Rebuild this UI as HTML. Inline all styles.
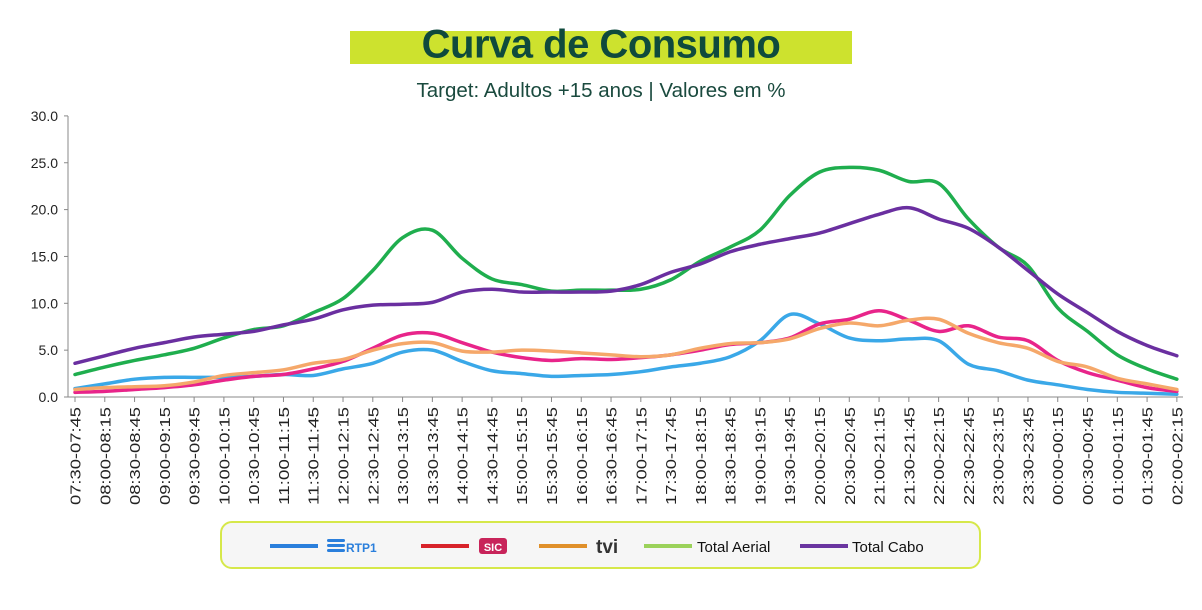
<!DOCTYPE html>
<html><head><meta charset="utf-8"><style>
body{margin:0;width:1202px;height:605px;background:#fff;overflow:hidden;font-family:"Liberation Sans",sans-serif}
</style></head><body>
<svg width="1202" height="605" xmlns="http://www.w3.org/2000/svg" id="s">
<rect x="350" y="31" width="502" height="33" fill="#cde22e"/>
<text x="601" y="47" text-anchor="middle" font-size="40" font-weight="bold" fill="#0f4a3c" font-family="Liberation Sans" style="letter-spacing:-0.5px" dominant-baseline="middle">Curva de Consumo</text>
<text x="601" y="97" text-anchor="middle" font-size="20.5" fill="#1a4a3e">Target: Adultos +15 anos | Valores em %</text>
<g id="ax" fill="#222"></g>
<g id="ln" fill="none" stroke-width="3.5" stroke-linejoin="round" stroke-linecap="round"></g>
<rect x="221" y="522" width="759" height="46" rx="11" fill="#f6f6f6" stroke="#d6e84a" stroke-width="2"/>
<line x1="270" y1="546" x2="318" y2="546" stroke="#2a7fdc" stroke-width="4"/>
<g fill="#2a7fdc"><rect x="327" y="539" width="18" height="3" rx="1.5"/><rect x="327" y="544" width="18" height="3" rx="1.5"/><rect x="327" y="549" width="18" height="3" rx="1.5"/></g>
<text x="346" y="552" font-size="12" font-weight="bold" fill="#2a7fdc">RTP1</text>
<line x1="421" y1="546" x2="469" y2="546" stroke="#d8232a" stroke-width="4"/>
<rect x="479" y="538" width="28" height="16" rx="3" fill="#c8245a"/>
<text x="493" y="551" text-anchor="middle" font-size="11" font-weight="bold" fill="#fff">SIC</text>
<line x1="539" y1="546" x2="587" y2="546" stroke="#e0902a" stroke-width="4"/>
<text x="596" y="553" font-size="19" font-weight="bold" fill="#333">tvi</text>
<line x1="644" y1="546" x2="692" y2="546" stroke="#9bd25a" stroke-width="4"/>
<text x="697" y="552" font-size="15" fill="#111">Total Aerial</text>
<line x1="800" y1="546" x2="848" y2="546" stroke="#6a35a0" stroke-width="4"/>
<text x="852" y="552" font-size="15" fill="#111">Total Cabo</text>
</svg>
<script>
var ns="http://www.w3.org/2000/svg";
function el(t,a,p,txt){var e=document.createElementNS(ns,t);for(var k in a)e.setAttribute(k,a[k]);if(txt)e.textContent=txt;p.appendChild(e);return e;}
var ax=document.getElementById('ax'),ln=document.getElementById('ln');
var y0=397,k=9.37,X0=75,dx=29.78;
function Y(v){return y0-v*k;}
el('line',{x1:68,y1:116,x2:68,y2:397,stroke:'#888'},ax);
el('line',{x1:68,y1:397,x2:1183,y2:397,stroke:'#888'},ax);
for(var v=0;v<=30;v+=5){el('line',{x1:64,y1:Y(v),x2:68,y2:Y(v),stroke:'#888'},ax);el('text',{x:58,y:Y(v)+5,'text-anchor':'end','font-size':14},ax,v.toFixed(1));}
function pad(n){return (n<10?'0':'')+n;}
for(var i=0;i<38;i++){var m=7*60+30+i*30;var a=m%1440,b=(m+15)%1440;
var lab=pad(Math.floor(a/60))+':'+pad(a%60)+'-'+pad(Math.floor(b/60))+':'+pad(b%60);
var x=X0+i*dx;el('line',{x1:x,y1:397,x2:x,y2:402,stroke:'#888'},ax);
el('text',{x:0,y:0,transform:'translate('+(x+5.5)+',407) rotate(-90)','text-anchor':'end','font-size':15,textLength:98,lengthAdjust:'spacingAndGlyphs'},ax,lab);}
var S={
'#1fae4e':[2.4,3.2,3.9,4.5,5.2,6.3,7.2,7.6,9.0,10.5,13.5,17.0,17.8,14.8,12.6,12.0,11.3,11.4,11.4,11.5,12.5,14.5,16.0,17.8,21.5,24.0,24.5,24.2,23.0,22.8,19.0,16.0,14.0,9.5,7.0,4.5,3.0,1.9],
'#6a2fa0':[3.6,4.4,5.2,5.8,6.4,6.7,7.0,7.7,8.3,9.3,9.8,9.9,10.1,11.2,11.5,11.2,11.2,11.2,11.3,12.0,13.3,14.2,15.5,16.3,16.9,17.5,18.5,19.5,20.2,19.0,18.0,16.0,13.5,11.0,9.0,7.0,5.5,4.4],
'#3aa8e8':[0.9,1.4,1.9,2.1,2.1,2.1,2.2,2.4,2.3,3.0,3.6,4.8,5.0,3.8,2.8,2.5,2.2,2.3,2.4,2.7,3.2,3.6,4.3,6.0,8.8,7.8,6.3,6.0,6.2,6.0,3.5,2.8,1.8,1.3,0.8,0.5,0.4,0.3],
'#e8248a':[0.5,0.6,0.8,1.0,1.3,1.8,2.2,2.4,3.0,3.8,5.2,6.6,6.8,5.8,4.8,4.2,3.9,4.1,4.0,4.2,4.5,5.0,5.6,5.8,6.3,7.8,8.3,9.2,8.2,7.0,7.6,6.4,6.0,3.9,2.6,1.8,1.0,0.6],
'#f5a86a':[0.8,1.0,1.1,1.2,1.6,2.3,2.6,2.9,3.6,4.0,5.0,5.7,5.8,4.9,4.8,5.0,4.9,4.7,4.5,4.3,4.5,5.2,5.7,5.8,6.2,7.3,7.9,7.6,8.2,8.3,6.8,5.8,5.2,3.8,3.2,2.0,1.4,0.8]};
var order=['#3aa8e8','#e8248a','#f5a86a','#1fae4e','#6a2fa0'];
order.forEach(function(c){var d=S[c],p=d.map(function(v,i){return [X0+i*dx,Y(v)];});
var s='M'+p[0][0]+','+p[0][1];
for(var i=0;i<p.length-1;i++){var a=p[Math.max(i-1,0)],b=p[i],q=p[i+1],r=p[Math.min(i+2,p.length-1)];
s+='C'+(b[0]+(q[0]-a[0])/6)+','+(b[1]+(q[1]-a[1])/6)+' '+(q[0]-(r[0]-b[0])/6)+','+(q[1]-(r[1]-b[1])/6)+' '+q[0]+','+q[1];}
el('path',{d:s,stroke:c},ln);});
</script>
</body></html>
